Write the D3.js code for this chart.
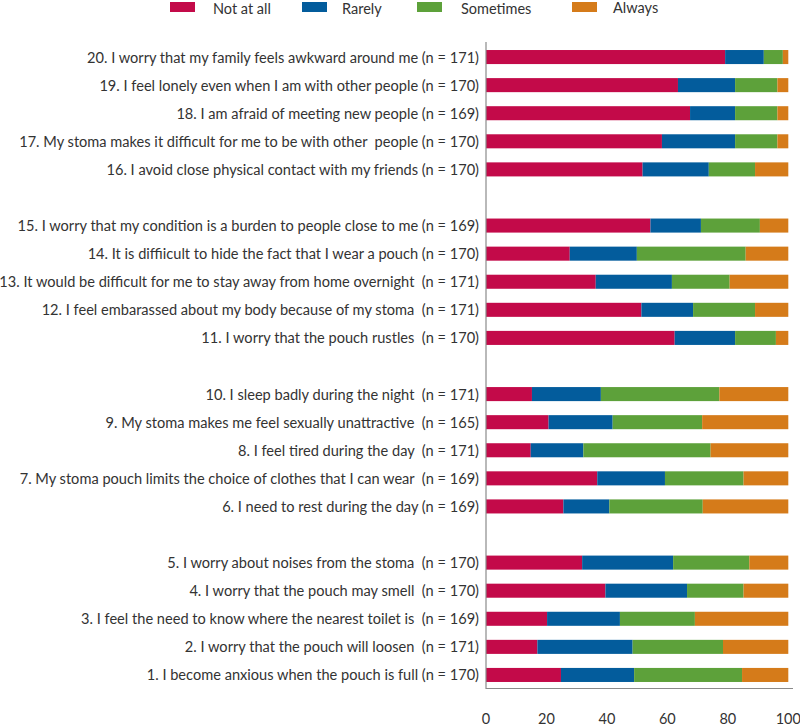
<!DOCTYPE html>
<html><head><meta charset="utf-8">
<script src="https://cdn.jsdelivr.net/npm/d3@7"></script>
<style>body{margin:0;background:#fff;} svg{display:block;}</style>
</head><body><svg id="c" width="800" height="726"></svg>
<script>
const series = ["Not at all", "Rarely", "Sometimes", "Always"];
const colors = ["#C30A49", "#035C9C", "#5DA13A", "#D57B1A"];
// top to bottom; null = gap
const labels = [
 "20. I worry that my family feels awkward around me (n = 171)",
 "19. I feel lonely even when I am with other people (n = 170)",
 "18. I am afraid of meeting new people (n = 169)",
 "17. My stoma makes it difficult for me to be with other  people (n = 170)",
 "16. I avoid close physical contact with my friends (n = 170)",
 null,
 "15. I worry that my condition is a burden to people close to me (n = 169)",
 "14. It is diffiicult to hide the fact that I wear a pouch (n = 170)",
 "13. It would be difficult for me to stay away from home overnight  (n = 171)",
 "12. I feel embarassed about my body because of my stoma  (n = 171)",
 "11. I worry that the pouch rustles  (n = 170)",
 null,
 "10. I sleep badly during the night  (n = 171)",
 "9. My stoma makes me feel sexually unattractive  (n = 165)",
 "8. I feel tired during the day  (n = 171)",
 "7. My stoma pouch limits the choice of clothes that I can wear  (n = 169)",
 "6. I need to rest during the day (n = 169)",
 null,
 "5. I worry about noises from the stoma  (n = 170)",
 "4. I worry that the pouch may smell  (n = 170)",
 "3. I feel the need to know where the nearest toilet is  (n = 169)",
 "2. I worry that the pouch will loosen  (n = 171)",
 "1. I become anxious when the pouch is full (n = 170)"
];
const notAtAll  = [79.1, 63.5, 67.5, 58.2, 51.8, null, 54.4, 27.7, 36.3, 51.4, 62.4, null, 15.2, 20.7, 14.8, 36.8, 25.6, null, 31.8, 39.5, 20.2, 17.0, 24.8];
const rarely    = [12.8, 18.9, 14.9, 24.2, 21.9, null, 16.7, 22.2, 25.2, 17.1, 20.0, null, 22.8, 21.2, 17.4, 22.4, 15.2, null, 30.1, 27.0, 24.1, 31.5, 24.2];
const sometimes = [6.3, 14.0, 14.0, 14.0, 15.3, null, 19.5, 36.0, 19.1, 20.5, 13.5, null, 39.2, 29.6, 42.1, 26.0, 30.9, null, 25.2, 18.7, 24.8, 29.9, 35.7];
const always    = [1.8, 3.6, 3.6, 3.6, 11.0, null, 9.4, 14.1, 19.4, 11.0, 4.1, null, 22.8, 28.5, 25.7, 14.8, 28.3, null, 12.9, 14.8, 30.9, 21.6, 15.3];
const ticks = [0, 20, 40, 60, 80, 100];

const svg = d3.select("#c");
const font = "Lato, 'Open Sans', sans-serif";
const x = d3.scaleLinear().domain([0, 100]).range([486, 788.3]);
const y = d3.scaleBand().domain(d3.range(labels.length)).range([43, 689]).paddingInner(0.5).paddingOuter(0.25);

const rows = labels.map((l, i) => ({i, l, v: [notAtAll[i], rarely[i], sometimes[i], always[i]]})).filter(d => d.l);
rows.forEach(d => {
  let acc = 0;
  d.v.forEach((v, k) => {
    svg.append("rect").attr("x", x(acc)).attr("width", x(acc + v) - x(acc))
      .attr("y", y(d.i)).attr("height", y.bandwidth()).attr("fill", colors[k]);
    acc += v;
  });
  svg.append("text").attr("x", 479).attr("y", y(d.i) + y.bandwidth() / 2)
    .attr("text-anchor", "end").attr("dominant-baseline", "central")
    .style("white-space", "pre").attr("font-family", font).attr("font-size", 14.6).attr("fill", "#333")
    .text(d.l);
});

// axes lines
svg.append("line").attr("x1", 486).attr("x2", 486).attr("y1", 42).attr("y2", 689).attr("stroke", "#8a8a8a").attr("stroke-width", 1.2);
svg.append("line").attr("x1", 486).attr("x2", 793).attr("y1", 688.5).attr("y2", 688.5).attr("stroke", "#8a8a8a").attr("stroke-width", 1.2);
ticks.forEach(t => {
  svg.append("text").attr("x", x(t)).attr("y", 718).attr("text-anchor", "middle").attr("dominant-baseline", "central")
    .attr("font-family", font).attr("font-size", 14.5).attr("fill", "#333").text(t);
});

// legend
const legX = [170, 302, 417, 572];
const legTX = [213, 342, 461, 613];
series.forEach((s, k) => {
  svg.append("rect").attr("x", legX[k]).attr("y", 2).attr("width", 25).attr("height", 10).attr("fill", colors[k]);
  svg.append("text").attr("x", legTX[k]).attr("y", k === 3 ? 7 : 8).attr("dominant-baseline", "central")
    .attr("font-family", font).attr("font-size", 14.5).attr("fill", "#333").text(s);
});
</script></body></html>
